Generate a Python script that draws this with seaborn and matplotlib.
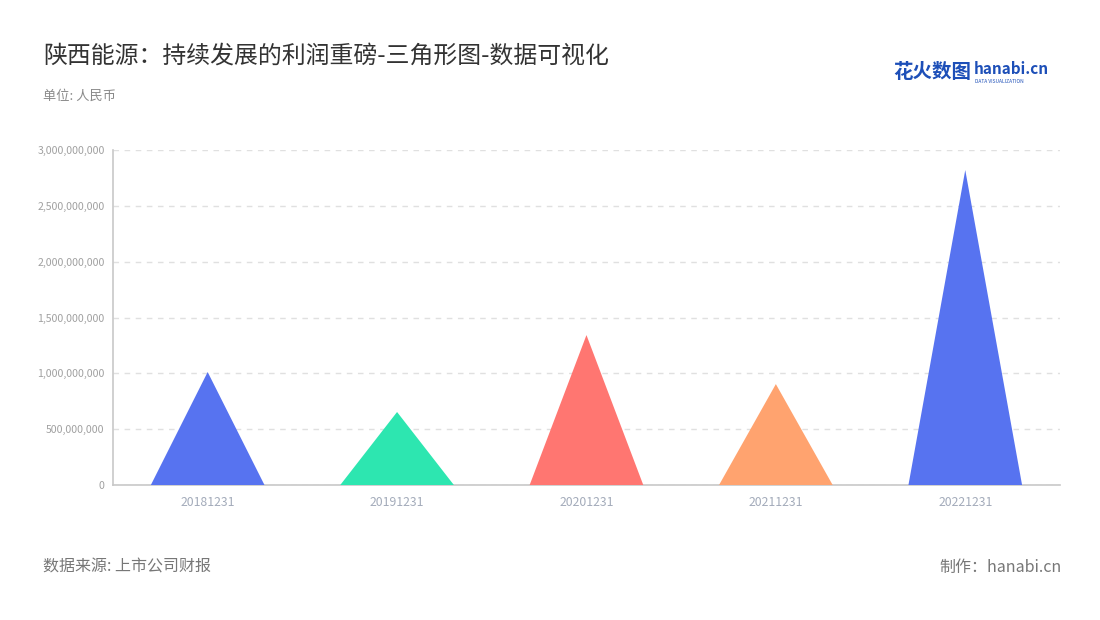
import seaborn as sns
import matplotlib
matplotlib.use('Agg')
import matplotlib.pyplot as plt
from matplotlib.patches import Polygon
from matplotlib.ticker import FuncFormatter

periods = ['20181231', '20191231', '20201231', '20211231', '20221231']
profits = [1.012e9, 0.654e9, 1.343e9, 0.904e9, 2.821e9]
colors = ['#5773F0', '#2DE6B0', '#FF7671', '#FFA36F', '#5773F0']

sns.set_style('white')
plt.rcParams['font.family'] = ['Noto Sans CJK SC', 'DejaVu Sans']

fig = plt.figure(figsize=(11, 6.2), dpi=100)
ax = fig.add_axes([0.1027, 0.2177, 0.8609, 0.5403])

sns.barplot(x=periods, y=profits, hue=periods, palette=colors,
            width=0.6, legend=False, ax=ax)

# swap each bar for a triangle with the same base and height
for bar, color in zip(list(ax.patches), colors):
    x0 = bar.get_x()
    w = bar.get_width()
    h = bar.get_height()
    tri = Polygon([(x0, 0), (x0 + w / 2, h), (x0 + w, 0)], closed=True,
                  facecolor=color, edgecolor='none', zorder=3)
    bar.remove()
    ax.add_patch(tri)

ax.set_ylim(0, 3e9)
ax.set_xlim(-0.5, len(periods) - 0.5)
ax.set_yticks([i * 5e8 for i in range(7)])
ax.yaxis.set_major_formatter(FuncFormatter(lambda v, p: f'{v:,.0f}'))
ax.grid(axis='y', linestyle=(0, (4, 4)), color='#e0e0e0', linewidth=1, zorder=0)
ax.set_axisbelow(True)

for side in ['top', 'right']:
    ax.spines[side].set_visible(False)
for side in ['left', 'bottom']:
    ax.spines[side].set_color('#c8c8c8')
    ax.spines[side].set_linewidth(1.2)

ax.tick_params(axis='y', length=5, color='#c8c8c8', labelsize=7.6, labelcolor='#a0a0a0', pad=1)
ax.tick_params(axis='x', length=5, color='#c8c8c8', labelsize=8.8, labelcolor='#a3abba', pad=3)
ax.set_xlabel('')
ax.set_ylabel('')

fig.text(0.039, 0.91, '陕西能源：持续发展的利润重磅-三角形图-数据可视化',
         fontsize=17.2, color='#333333', va='center')
fig.text(0.039, 0.845, '单位: 人民币', fontsize=9.5, color='#8a8a8a', va='center')

fig.text(0.039, 0.085, '数据来源: 上市公司财报', fontsize=11.5, color='#777777', va='center')
fig.text(0.965, 0.085, '制作：hanabi.cn', fontsize=11.5, color='#777777', va='center', ha='right')

# logo
fig.text(0.812, 0.883, '花火数图', fontsize=14, color='#1d4fb8', fontweight='bold', va='center')
fig.text(0.885, 0.888, 'hanabi.cn', fontsize=11, color='#1d4fb8', fontweight='bold', va='center')
fig.text(0.886, 0.869, 'DATA VISUALIZATION', fontsize=3.5, color='#1d4fb8', va='center')

fig.savefig('out.png', dpi=100)
